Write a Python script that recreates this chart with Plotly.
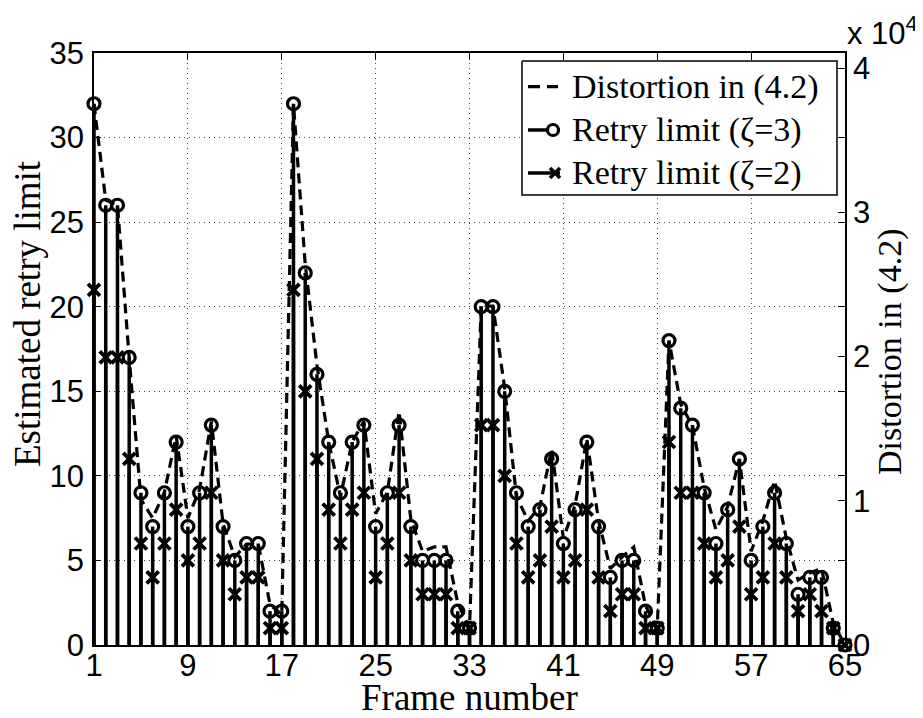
import plotly.graph_objects as go

frames = list(range(1, 66))

retry_z3 = [32, 26, 26, 17, 9, 7, 9, 12, 7, 9, 13, 7, 5, 6, 6, 2, 2,
            32, 22, 16, 12, 9, 12, 13, 7, 9, 13, 7, 5, 5, 5, 2, 1,
            20, 20, 15, 9, 7, 8, 11, 6, 8, 12, 7, 4, 5, 5, 2, 1,
            18, 14, 13, 9, 6, 8, 11, 5, 7, 9, 6, 3, 4, 4, 1, 0]

retry_z2 = [21, 17, 17, 11, 6, 4, 6, 8, 5, 6, 9, 5, 3, 4, 4, 1, 1,
            21, 15, 11, 8, 6, 8, 9, 4, 6, 9, 5, 3, 3, 3, 1, 1,
            13, 13, 10, 6, 4, 5, 7, 4, 5, 8, 4, 2, 3, 3, 1, 1,
            12, 9, 9, 6, 4, 5, 7, 3, 4, 6, 4, 2, 3, 2, 1, 0]

distortion = [37500, 30850, 30500, 19900, 10100, 8800, 10600, 14500, 8800, 10800,
              15500, 8400, 6100, 7000, 7000, 2800, 2100,
              37500, 26400, 19400, 14100, 10300, 14100, 15500, 9100, 10600,
              16200, 8700, 6500, 6800, 6800, 2900, 1200,
              23500, 23500, 17800, 10300, 8600, 9600, 13600, 7400, 9700,
              14300, 8600, 5300, 6100, 6800, 2700, 1200,
              21100, 16700, 15200, 10900, 8000, 9600, 12900, 6500, 8600,
              11400, 7400, 4500, 5000, 5300, 1500, 0]

x_ticks = [1, 9, 17, 25, 33, 41, 49, 57, 65]
y_ticks = [0, 5, 10, 15, 20, 25, 30, 35]
y2_tickvals = [0, 10000, 20000, 30000, 40000]
y2_ticktext = ["0", "1", "2", "3", "4"]

legend_names = ["Distortion in (4.2)", "Retry limit (\u03b6=3)", "Retry limit (\u03b6=2)"]


def stems(xs, ys):
    sx, sy = [], []
    for a, b in zip(xs, ys):
        sx += [a, a, None]
        sy += [0, b, None]
    return sx, sy


SERIF = "Liberation Serif, Times New Roman, serif"
SANS = "Liberation Sans, Arial, sans-serif"

# page body has an 8px default margin; figure is sized to compensate
W, H = 915, 710
ML, MR, MT, MB = 86, 78, 45, 73
PW, PH = W - ML - MR, H - MT - MB   # plot area in px (751 x 592)

fig = go.Figure()

sx3, sy3 = stems(frames, retry_z3)
sx2, sy2 = stems(frames, retry_z2)

fig.add_trace(go.Scatter(x=sx3, y=sy3, mode="lines", line=dict(color="black", width=3.5),
                         showlegend=False, cliponaxis=False, hoverinfo="skip"))
fig.add_trace(go.Scatter(x=sx2, y=sy2, mode="lines", line=dict(color="black", width=3.5),
                         showlegend=False, cliponaxis=False, hoverinfo="skip"))
fig.add_trace(go.Scatter(x=frames, y=retry_z3, mode="markers",
                         marker=dict(symbol="circle-open", size=12, color="black",
                                     line=dict(width=3.2, color="black")),
                         showlegend=False, cliponaxis=False))
fig.add_trace(go.Scatter(x=frames, y=retry_z2, mode="markers",
                         marker=dict(symbol="x-thin-open", size=12, color="black",
                                     line=dict(width=3.8, color="black")),
                         showlegend=False, cliponaxis=False))

fig.add_trace(go.Scatter(x=frames, y=distortion, yaxis="y2", mode="lines",
                         line=dict(color="black", width=3.2, dash="10px,6px"),
                         name=legend_names[0], showlegend=False, cliponaxis=False))

# ---- hand-drawn legend on a pixel-mapped overlay axis pair (x3/y3) ----
box_l, box_r, box_t, box_b = 428, 743, 8, 142
rows_y = [33.7, 77, 120]
samp_l, samp_r = 434, 466
txt_x = 476

fig.add_trace(go.Scatter(x=[box_l, box_r, box_r, box_l, box_l],
                         y=[box_t, box_t, box_b, box_b, box_t],
                         xaxis="x3", yaxis="y3", mode="lines", fill="toself",
                         fillcolor="white", line=dict(color="black", width=1.5),
                         showlegend=False, hoverinfo="skip"))
fig.add_trace(go.Scatter(x=[samp_l, samp_r - 2], y=[rows_y[0], rows_y[0]],
                         xaxis="x3", yaxis="y3", mode="lines",
                         line=dict(color="black", width=3.2, dash="12px,7px"),
                         showlegend=False, hoverinfo="skip"))
fig.add_trace(go.Scatter(x=[samp_l, samp_r], y=[rows_y[1], rows_y[1]],
                         xaxis="x3", yaxis="y3", mode="lines",
                         line=dict(color="black", width=3.5),
                         showlegend=False, hoverinfo="skip"))
fig.add_trace(go.Scatter(x=[459], y=[rows_y[1]], xaxis="x3", yaxis="y3", mode="markers",
                         marker=dict(symbol="circle", size=11, color="white",
                                     line=dict(width=3.2, color="black")),
                         showlegend=False, hoverinfo="skip"))
fig.add_trace(go.Scatter(x=[samp_l, samp_r], y=[rows_y[2], rows_y[2]],
                         xaxis="x3", yaxis="y3", mode="lines",
                         line=dict(color="black", width=3.5),
                         showlegend=False, hoverinfo="skip"))
fig.add_trace(go.Scatter(x=[461], y=[rows_y[2]], xaxis="x3", yaxis="y3", mode="markers",
                         marker=dict(symbol="x-thin-open", size=10, color="black",
                                     line=dict(width=3.6, color="black")),
                         showlegend=False, hoverinfo="skip"))

legend_annots = [dict(text=name, xref="x3", yref="y3", x=txt_x, y=ry,
                      xanchor="left", yanchor="middle", showarrow=False,
                      font=dict(family=SERIF, size=34, color="black"))
                 for name, ry in zip(legend_names, rows_y)]

GRID = dict(showgrid=True, gridcolor="#444", gridwidth=1, griddash="1px,4px")

fig.update_layout(
    width=W, height=H,
    margin=dict(l=ML, r=MR, t=MT, b=MB),
    paper_bgcolor="white", plot_bgcolor="white",
    font=dict(family=SANS, size=31, color="black"),
    showlegend=False,
    xaxis=dict(range=[1, 65], tickvals=x_ticks, ticks="inside", ticklen=7,
               tickwidth=1.2, tickcolor="black", automargin=False,
               showline=True, linecolor="black", linewidth=1.5, mirror="ticks",
               zeroline=False, tickfont=dict(family=SANS, size=31),
               ticklabelstandoff=-8, **GRID),
    yaxis=dict(range=[0, 35], tickvals=y_ticks, ticks="inside", ticklen=7,
               tickwidth=1.2, tickcolor="black", automargin=False,
               showline=True, linecolor="black", linewidth=1.5, mirror="ticks",
               zeroline=False, tickfont=dict(family=SANS, size=31),
               ticklabelstandoff=2, **GRID),
    yaxis2=dict(range=[0, 41055], overlaying="y", side="right",
                tickvals=y2_tickvals, ticktext=y2_ticktext, automargin=False,
                ticks="inside", ticklen=7, tickwidth=1.2, tickcolor="black",
                showline=True, linecolor="black", linewidth=1.5,
                showgrid=False, zeroline=False, tickfont=dict(family=SANS, size=31)),
    xaxis3=dict(range=[0, PW], overlaying="x", visible=False, fixedrange=True),
    yaxis3=dict(range=[PH, 0], overlaying="y", visible=False, fixedrange=True),
    annotations=legend_annots + [
        dict(text="Frame number", xref="paper", yref="paper", x=0.5, y=-0.089,
             xanchor="center", yanchor="middle", showarrow=False,
             font=dict(family=SERIF, size=37)),
        dict(text="Estimated retry limit", xref="paper", yref="paper", x=-0.0892, y=0.559,
             xanchor="center", yanchor="middle", textangle=-90, showarrow=False,
             font=dict(family=SERIF, size=37)),
        dict(text="Distortion in (4.2)", xref="paper", yref="paper", x=1.060, y=0.495,
             xanchor="center", yanchor="middle", textangle=-90, showarrow=False,
             font=dict(family=SERIF, size=34)),
        dict(text="x 10<sup>4</sup>", xref="paper", yref="paper", x=1.0, y=1.0,
             xanchor="left", yanchor="bottom", showarrow=False,
             font=dict(family=SANS, size=31)),
    ],
)

fig.write_html("out.html")
